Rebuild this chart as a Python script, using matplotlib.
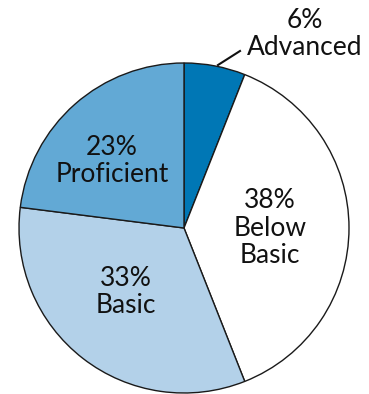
import matplotlib
matplotlib.use("Agg")
import matplotlib.pyplot as plt

labels = ["Advanced", "Below\nBasic", "Basic", "Proficient"]
shares = [6, 38, 33, 23]
colors = ["#0077b5", "#ffffff", "#b3d1e9", "#62a9d5"]

plt.rcParams["font.family"] = ["Lato", "DejaVu Sans"]

W, H = 369, 394
fig = plt.figure(figsize=(W / 100, H / 100), dpi=100)

# pie centre and radius in pixels
cx, cy, r = 184, 228, 165
L = 1.05
half = L * r
ax = fig.add_axes([(cx - half) / W, (H - cy - half) / H, 2 * half / W, 2 * half / H])

ax.pie(shares, colors=colors, startangle=90, counterclock=False, radius=1,
       wedgeprops=dict(edgecolor="#1a1a1a", linewidth=1.0))
ax.set_xlim(-L, L)
ax.set_ylim(-L, L)
ax.set_aspect("equal")
ax.axis("off")

def px(x, y):
    return (x - cx) / r, (cy - y) / r

fs = 19
# labels inside the slices
inside = {
    "Below\nBasic": (270, 228),
    "Basic": (126, 292),
    "Proficient": (112, 161),
}
for lab, s in zip(labels, shares):
    if lab in inside:
        x, y = px(*inside[lab])
        ax.text(x, y, f"{s}%\n{lab}", ha="center", va="center", fontsize=fs,
                linespacing=1.12, color="#111111")

# small slice labelled outside with a leader line
x, y = px(305, 34)
ax.text(x, y, f"{shares[0]}%\n{labels[0]}", ha="center", va="center", fontsize=fs,
        linespacing=1.12, color="#111111")
x0, y0 = px(218, 65)
x1, y1 = px(240, 51)
ax.plot([x0, x1], [y0, y1], color="#111111", lw=1.5, clip_on=False)

fig.savefig("out.png", dpi=100)
